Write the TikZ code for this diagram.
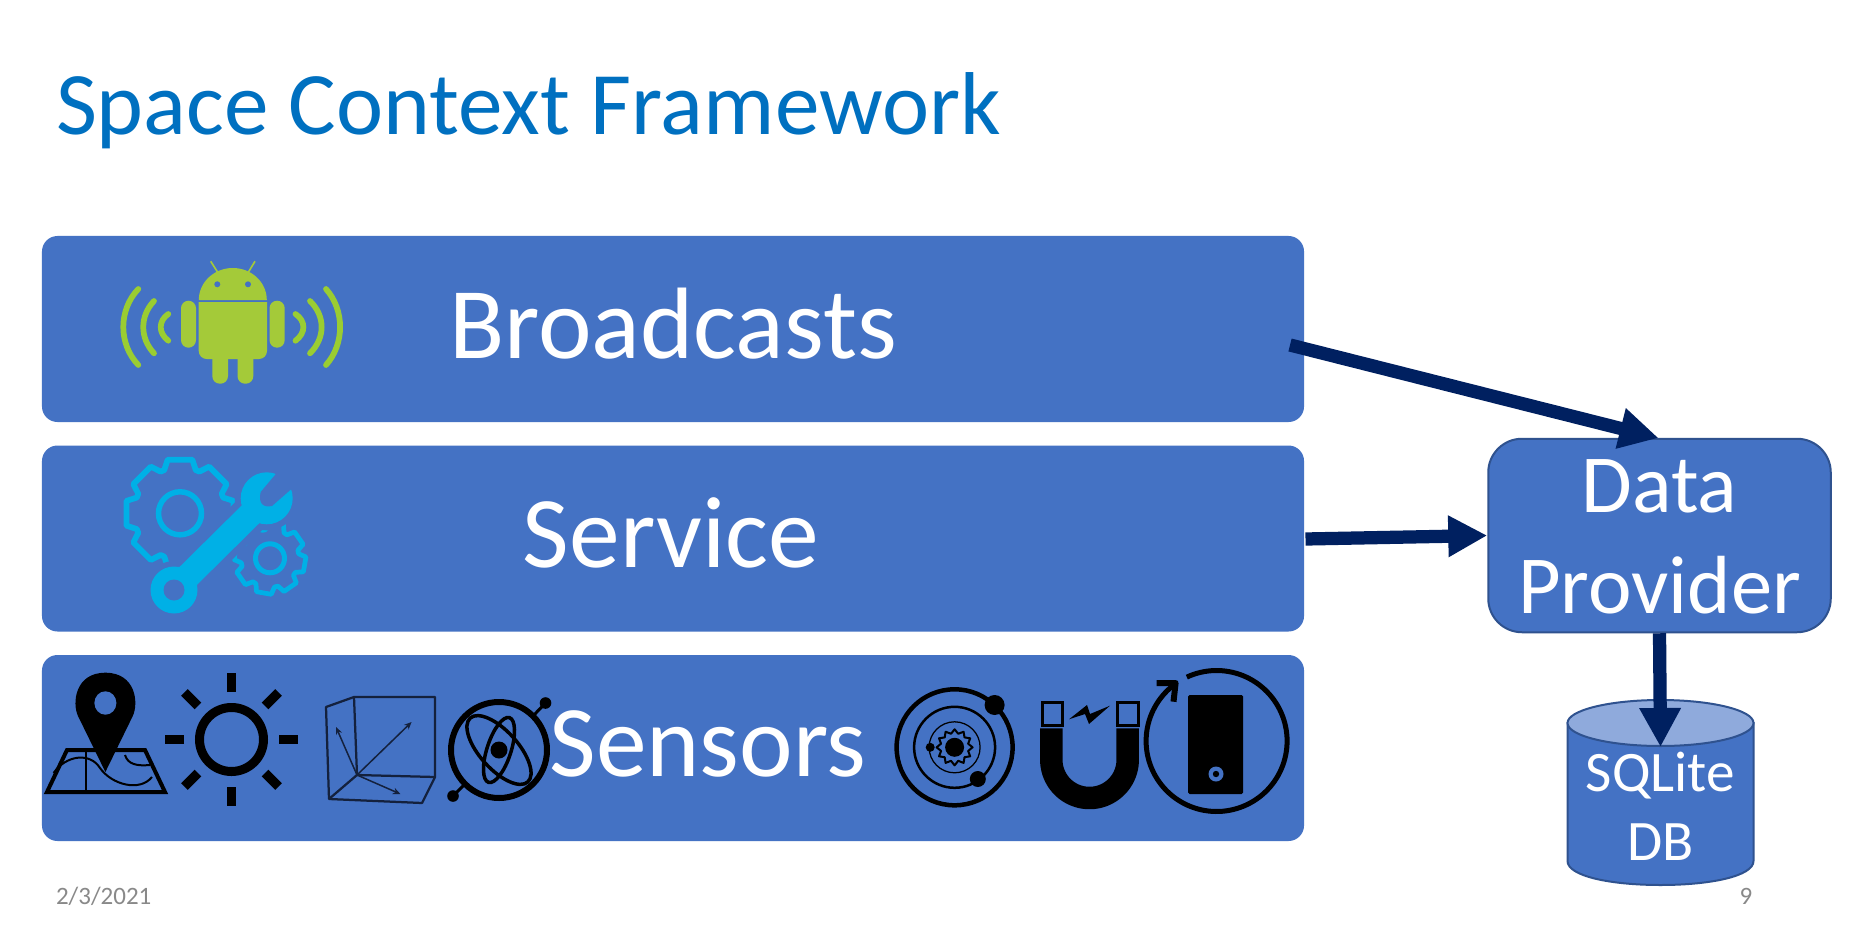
\documentclass[tikz,border=0pt]{standalone}
\usepackage{fontspec}
\setmainfont{Carlito}
\usetikzlibrary{arrows.meta,calc,shapes.geometric}
\definecolor{barblue}{HTML}{4472C4}
\definecolor{edgeblue}{HTML}{2F528F}
\definecolor{toplight}{HTML}{8FAADC}
\definecolor{navyarrow}{HTML}{002060}
\definecolor{titleblue}{HTML}{0070C0}
\definecolor{robot}{HTML}{A4CA39}
\definecolor{wave}{HTML}{9ACD32}
\definecolor{tool}{HTML}{00B0E6}
\definecolor{cubeline}{HTML}{14213D}
\definecolor{footgray}{HTML}{898989}
\tikzset{
  bar/.style={fill=barblue,draw=none,rounded corners=6.2pt,minimum width=504.8pt,minimum height=74.4pt,inner sep=0pt},
  bartext/.style={anchor=base,text=white,inner sep=0pt,font=\fontsize{40.6}{48}\selectfont},
  boxtext/.style={anchor=base,text=white,inner sep=0pt,font=\fontsize{33}{39}\selectfont},
  dbtext/.style={anchor=base,text=white,inner sep=0pt,font=\fontsize{22.9}{27}\selectfont},
  foot/.style={anchor=base west,text=footgray,inner sep=0pt,font=\fontsize{10}{12}\selectfont},
  flow/.style={draw=navyarrow,line width=5.3pt,-{Triangle[length=15.6pt,width=15.6pt]}},
  wavearc/.style={draw=wave,line width=2.3pt,line cap=round},
  cubeedge/.style={draw=cubeline,line width=0.9pt,line join=round},
}
\begin{document}
\begin{tikzpicture}[x=0.4pt,y=-0.4pt]
\useasboundingbox (0,0) rectangle (1852,926);
\fill[white] (0,0) rectangle (1852,926);

% title
\node[anchor=base west,inner sep=0pt,text=titleblue,font=\fontsize{35.7}{42}\selectfont] (title) at (55.5,134.5) {Space Context Framework};

% bars
\node[bar] (barB) at (673,329) {};
\node[bar] (barS) at (673,538.5) {};
\node[bar] (barN) at (673,748) {};

% --- android icon
\fill[robot] plot[domain=180:360,samples=40] ({232.8+34*cos(\x)},{300+32*sin(\x)}) -- cycle;
\fill[robot] (198.7,302) -- (267,302) [rounded corners=3.2pt] -- (267,359) -- (198.7,359) [sharp corners] -- cycle;
\fill[robot,rounded corners=3pt] (181,300.7) rectangle (196,347.7);
\fill[robot,rounded corners=3pt] (269.5,300.7) rectangle (284.7,347.7);
\fill[robot,rounded corners=3pt] (212.3,350) rectangle (228,383.7);
\fill[robot,rounded corners=3pt] (237.5,350) rectangle (253.3,383.7);
\fill[barblue] (217.3,284.3) circle[radius=3];
\fill[barblue] (248,284.3) circle[radius=3];
\draw[robot,line width=0.65pt] (210.7,261.3) -- (217.7,272.3);
\draw[robot,line width=0.65pt] (255,261.3) -- (248.3,272.3);
\draw[wavearc] (138.3,289) .. controls (118.3,310) and (118.3,344) .. (138.3,365);
\draw[wavearc] (154,301) .. controls (139.7,316) and (139.7,338) .. (154,353.3);
\draw[wavearc] (168.3,314) .. controls (158.2,321) and (158.2,333) .. (168.3,340.7);
\draw[wavearc] (326,289) .. controls (344.8,310) and (344.8,344) .. (326,365);
\draw[wavearc] (310,301) .. controls (325.5,316) and (325.5,338) .. (310,353.3);
\draw[wavearc] (295.5,314) .. controls (306,321) and (306,333) .. (295.5,340.7);

% --- tools icon
\begin{scope}[shift={(180,513.3)}]
  \draw[tool,line width=2.3pt,line join=round] (-20:46) \foreach \a in {0,45,...,315} { -- (\a-20:46) -- (\a-13:55) -- (\a+13:55) -- (\a+20:46) } -- cycle;
  \draw[tool,line width=2.2pt] (0,0) circle[radius=21.5];
\end{scope}
\begin{scope}[shift={(270,558.3)}]
  \draw[tool,line width=1.9pt,line join=round] (-9:29) \foreach \a in {10,55,...,325} { -- (\a-19:29) -- (\a-12:36) -- (\a+12:36) -- (\a+19:29) } -- cycle;
  \draw[tool,line width=2pt] (0,0) circle[radius=14.5];
\end{scope}
\draw[barblue,line width=15.5pt] (174,590) -- (266.7,498.3);
\fill[barblue] (174,590) circle[radius=29];
\fill[barblue] (266.7,498.3) circle[radius=32];
\draw[tool,line width=10pt] (174,590) -- (266.7,498.3);
\fill[tool] (174,590) circle[radius=23.5];
\fill[barblue] (174,590) circle[radius=10.5];
\fill[tool] (266.7,498.3) circle[radius=26];
\fill[barblue] (280,469) -- (260.7,492) .. controls (258,503) and (263,508) .. (272,506) -- (296,485) -- (303,470) -- cycle;

% --- map pin
\draw[black,line width=1.6pt,line join=miter] (67,750) -- (145,750) -- (165,792) -- (47,792) -- cycle;
\draw[black,line width=0.8pt] (86,750) -- (86,792);
\draw[black,line width=0.8pt] (53.6,773) .. controls (66,755) and (90,752) .. (100,768) .. controls (112,785) and (140,792) .. (152,777);
\draw[black,line width=0.8pt] (125,755) .. controls (128,765) and (138,766) .. (150,765);
\fill[black] (105.4,772) -- (78,716) .. controls (72,703) and (75,672.7) .. (105.4,672.7) .. controls (135.8,672.7) and (138.8,703) .. (132.8,716) -- cycle;
\fill[barblue] (105.4,703) circle[x radius=11,y radius=11.7];

% --- sun
\draw[black,line width=3.6pt] (231.5,739.5) circle[radius=32];
\foreach \a in {0,45,...,315}
  \draw[black,line width=3.8pt] ($(231.5,739.5)+(\a:47.5)$) -- ($(231.5,739.5)+(\a:66.5)$);

% --- cube
\draw[cubeedge] (326,707) -- (354,697) -- (435,697) -- (435,777) -- (422,803) -- (329,799) -- cycle;
\draw[cubeedge] (354,697) -- (357,775) -- (435,777);
\draw[cubeedge] (357,775) -- (329,799);
\draw[cubeedge,line width=0.6pt,-{Stealth[length=3pt,width=2.6pt]}] (357,775) -- (411.6,722);
\draw[cubeedge,line width=0.6pt,-{Stealth[length=3pt,width=2.6pt]}] (357,775) -- (336,727);
\draw[cubeedge,line width=0.6pt,-{Stealth[length=3pt,width=2.6pt]}] (357,775) -- (400.4,794);

% --- gyroscope
\draw[black,line width=2.4pt] (499,750) circle[radius=48];
\draw[black,line width=1.2pt] (453,796) -- (465,784);
\draw[black,line width=1.2pt] (545.5,703) -- (533,716);
\fill[black] (545.5,703) circle[radius=5.8];
\fill[black] (453,796) circle[radius=5.8];
\fill[black] (499,750) circle[radius=8.5];
\draw[black,line width=1.4pt] (499,750) circle[x radius=43,y radius=19,rotate=-48];
\draw[black,line width=1.4pt] (499,750) circle[x radius=34,y radius=12,rotate=72];

% --- solar system
\draw[black,line width=1.8pt] (954.6,747.3) circle[radius=58];
\draw[black,line width=1pt] (954.6,747.3) circle[radius=40.5];
\draw[black,line width=0.5pt] (954.6,747.3) circle[radius=25.5];
\begin{scope}[shift={(954.6,747.3)}]
\draw[black,line width=0.8pt,line join=round] (-90:18) \foreach \a in {0,30,...,330} { -- (\a-90:18) -- (\a-75:14) } -- cycle;
\end{scope}
\fill[black] (954.6,747.3) circle[radius=9.5];
\fill[black] (994.6,705) circle[radius=10];
\fill[black] (977.8,779) circle[radius=8];
\fill[black] (930.2,747.3) circle[radius=4.5];

% --- magnet
\draw[black,line width=9pt] (1051.3,728.3) -- plot[domain=180:0,samples=50] ({1089.5+38.2*cos(\x)},{759.8+38.2*sin(\x)}) -- (1127.7,728.3);
\draw[black,line width=1.2pt] (1042,702) rectangle (1062,725);
\draw[black,line width=1.2pt] (1117.5,702) rectangle (1138,725);
\fill[black] (1069,719.3) -- (1087,705) -- (1090,714) -- (1110,705.7) -- (1089,724) -- (1085,714) -- cycle;

% --- phone rotate
\draw[black,line width=2pt] plot[domain=245:595,samples=120] ({1216.6+70.5*cos(\x)},{741+70.5*sin(\x)});
\draw[black,line width=2.4pt,line join=round] (1156.6,683) -- (1175.6,683) -- (1173.5,701.7);
\fill[black,rounded corners=0.6pt] (1188,695) rectangle (1243,794);
\fill[barblue] (1216,774) circle[radius=7.5];
\fill[black] (1216,774) circle[radius=3.2];

% bar labels
\node[bartext] (tB) at (673,358) {Broadcasts};
\node[bartext] (tS) at (671,567) {Service};
\node[bartext] (tN) at (708,776) {Sensors};

% data provider
\node[fill=barblue,draw=edgeblue,line width=0.8pt,rounded corners=13.5pt,minimum width=137pt,minimum height=77.4pt,inner sep=0pt] (prov) at (1659.5,535.5) {};
\node[boxtext] (tD) at (1659.5,512.5) {Data};
\node[boxtext] (tP) at (1659.5,613.5) {Provider};

% cylinder
\path[fill=barblue,draw=edgeblue,line width=0.8pt] (1567.5,723) -- (1567.5,861) .. controls (1567.5,876) and (1610,885) .. (1660.5,885) .. controls (1711,885) and (1753.5,876) .. (1753.5,861) -- (1753.5,723) -- cycle;
\node[fill=toplight,draw=edgeblue,line width=0.8pt,ellipse,minimum width=74.4pt,minimum height=18.4pt,inner sep=0pt] (dbtop) at (1660.5,723) {};
\node[dbtext] (tQ) at (1660.5,791.5) {SQLite};
\node[dbtext] (tDB) at (1660.5,860) {DB};

% connectors
\coordinate (fromB) at (1290,345);
\coordinate (fromS) at (1305.5,539);
\coordinate (fromP) at (prov.south);
\coordinate (toPtop) at (1658.5,438);
\coordinate (toPleft) at (prov.west);
\coordinate (toDB) at (dbtop.south);
\draw[flow] (fromB) -- (toPtop);
\draw[flow] (fromS) -- (toPleft);
\draw[flow] (fromP) -- (toDB);

% footer
\node[foot] (date) at (55.5,904.5) {2/3/2021};
\node[foot] (page) at (1739,904.5) {9};
\end{tikzpicture}
\end{document}
